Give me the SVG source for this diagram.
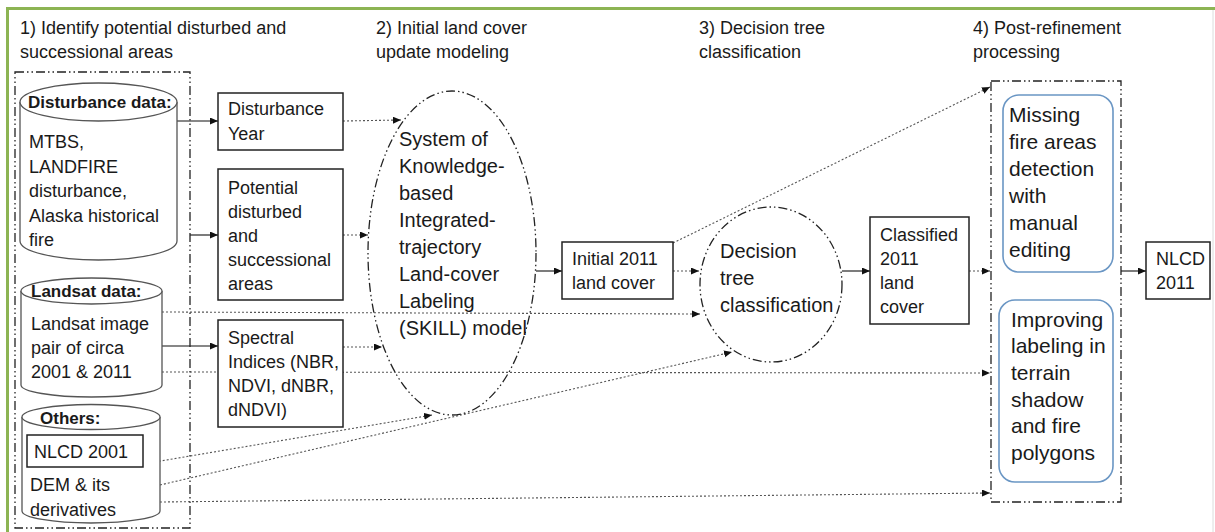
<svg xmlns="http://www.w3.org/2000/svg" width="1215" height="532" viewBox="0 0 1215 532">
<style>
text{font-family:"Liberation Sans",Arial,sans-serif;fill:#1a1a1a}
.h{font-size:18px}
.b{font-size:18px}
.bb{font-size:17px;font-weight:bold}
.e{font-size:20px}
.r{font-size:21px}
.box{fill:#fff;stroke:#222;stroke-width:1.5}
.cyl{fill:#fff;stroke:#555;stroke-width:1.3}
.dd{fill:none;stroke:#222;stroke-width:1.3;stroke-dasharray:9 3 1.5 3 1.5 3}
.rb{fill:#fff;stroke:#6a96c4;stroke-width:1.6}
.sol{fill:none;stroke:#111;stroke-width:1.1;marker-end:url(#ah)}
.dot{fill:none;stroke:#555;stroke-width:1.1;stroke-dasharray:2 2}
.dota{fill:none;stroke:#555;stroke-width:1.1;stroke-dasharray:2 2;marker-end:url(#ah)}
</style>
<defs>
<marker id="ah" markerUnits="userSpaceOnUse" markerWidth="9" markerHeight="8" refX="8" refY="3.5" orient="auto">
<path d="M0,0 L8,3.5 L0,7 z" fill="#111"/>
</marker>
</defs>
<rect x="0" y="0" width="1215" height="532" fill="#fff"/>
<rect x="7.5" y="8.5" width="1230" height="540" fill="none" stroke="#8cb453" stroke-width="3"/>
<line x1="1213" y1="10" x2="1213" y2="532" stroke="#dcdcdc" stroke-width="1"/>

<g id="headings">
<text class="h" x="20" y="34">1) Identify potential disturbed and</text>
<text class="h" x="20" y="58">successional areas</text>
<text class="h" x="376" y="34">2) Initial land cover</text>
<text class="h" x="376" y="58">update modeling</text>
<text class="h" x="699" y="34">3) Decision tree</text>
<text class="h" x="699" y="58">classification</text>
<text class="h" x="973" y="34">4) Post-refinement</text>
<text class="h" x="973" y="58">processing</text>
</g>

<g id="connectors">
<line class="dot" x1="162" y1="312" x2="700" y2="314" marker-end="url(#ah)"/>
<line class="dota" x1="162" y1="372" x2="990" y2="373"/>
<line class="dota" x1="143" y1="464" x2="432" y2="415"/>
<line class="dota" x1="160" y1="485" x2="732" y2="352"/>
<line class="dota" x1="160" y1="502" x2="990" y2="493"/>
<line class="dota" x1="343" y1="121" x2="401" y2="120"/>
<line class="dota" x1="343" y1="235" x2="368" y2="235"/>
<line class="dota" x1="343" y1="347" x2="382" y2="347"/>
<line class="dota" x1="673" y1="271" x2="699" y2="271"/>
<line class="dota" x1="673" y1="243" x2="990" y2="87"/>
<line class="dota" x1="969" y1="271" x2="990" y2="271"/>
<line class="sol" x1="177" y1="121" x2="218" y2="121"/>
<line class="sol" x1="190" y1="235" x2="218" y2="235"/>
<line class="sol" x1="162" y1="346" x2="218" y2="346"/>
<line class="sol" x1="536" y1="271" x2="562" y2="271"/>
<line class="sol" x1="842" y1="271" x2="870" y2="271"/>
<line class="sol" x1="1121" y1="271" x2="1146" y2="271"/>
</g>

<g id="group1-container">
<rect class="dd" x="15" y="72" width="175" height="456"/>
</g>

<g id="cyl-disturbance">
<path class="cyl" d="M20,102 V241 A78.5,19 0 0 0 177,241 V102"/>
<ellipse class="cyl" cx="98.5" cy="102" rx="78.5" ry="19"/>
<text class="bb" x="28" y="108">Disturbance data:</text>
<text class="b" x="29" y="148">MTBS,</text>
<text class="b" x="29" y="172.5">LANDFIRE</text>
<text class="b" x="29" y="197">disturbance,</text>
<text class="b" x="29" y="221.5">Alaska historical</text>
<text class="b" x="29" y="246">fire</text>
</g>

<g id="cyl-landsat">
<path class="cyl" d="M21,291 V385 A70.5,12 0 0 0 162,385 V291"/>
<ellipse class="cyl" cx="91.5" cy="291" rx="70.5" ry="13"/>
<text class="bb" x="31" y="297">Landsat data:</text>
<text class="b" x="31" y="330">Landsat image</text>
<text class="b" x="31" y="354">pair of circa</text>
<text class="b" x="31" y="378">2001 &amp; 2011</text>
</g>

<g id="cyl-others">
<path class="cyl" d="M22,417 V511 A69,12 0 0 0 160,511 V417"/>
<ellipse class="cyl" cx="91" cy="417" rx="69" ry="12.5"/>
<text class="bb" x="40" y="424">Others:</text>
<text class="b" x="30" y="491">DEM &amp; its</text>
<text class="b" x="30" y="516">derivatives</text>
</g>

<g id="nlcd2001">
<rect class="box" x="27" y="435" width="116" height="32"/>
<text class="b" x="34" y="458">NLCD 2001</text>
</g>

<g id="disturbance-year">
<rect class="box" x="218" y="93" width="125" height="57"/>
<text class="b" x="228" y="115">Disturbance</text>
<text class="b" x="228" y="140">Year</text>
</g>

<g id="potential">
<rect class="box" x="218" y="169" width="125" height="131"/>
<text class="b" x="228" y="194">Potential</text>
<text class="b" x="228" y="218">disturbed</text>
<text class="b" x="228" y="242">and</text>
<text class="b" x="228" y="266">successional</text>
<text class="b" x="228" y="290">areas</text>
</g>

<g id="spectral">
<rect class="box" x="218" y="320" width="125" height="107"/>
<text class="b" x="228" y="344">Spectral</text>
<text class="b" x="228" y="368">Indices (NBR,</text>
<text class="b" x="228" y="392">NDVI, dNBR,</text>
<text class="b" x="228" y="416">dNDVI)</text>
</g>

<g id="skill">
<ellipse class="dd" cx="452" cy="253" rx="84" ry="162"/>
<text class="e" x="399" y="146">System of</text>
<text class="e" x="399" y="173">Knowledge-</text>
<text class="e" x="399" y="200">based</text>
<text class="e" x="399" y="227">Integrated-</text>
<text class="e" x="399" y="254">trajectory</text>
<text class="e" x="399" y="281">Land-cover</text>
<text class="e" x="399" y="308">Labeling</text>
<text class="e" x="399" y="335">(SKILL) model</text>
</g>

<g id="initial2011">
<rect class="box" x="562" y="242" width="111" height="57"/>
<text class="b" x="572" y="265">Initial 2011</text>
<text class="b" x="572" y="289">land cover</text>
</g>

<g id="decision-tree">
<ellipse class="dd" cx="771" cy="284.5" rx="71" ry="77.5"/>
<text class="e" x="720" y="258">Decision</text>
<text class="e" x="720" y="285">tree</text>
<text class="e" x="720" y="312">classification</text>
</g>

<g id="classified2011">
<rect class="box" x="870" y="217" width="99" height="107"/>
<text class="b" x="880" y="241">Classified</text>
<text class="b" x="880" y="265">2011</text>
<text class="b" x="880" y="289">land</text>
<text class="b" x="880" y="313">cover</text>
</g>

<g id="post-container">
<rect class="dd" x="991" y="81" width="130" height="421"/>
</g>

<g id="missing-fire">
<rect class="rb" x="1003" y="95" width="110" height="177" rx="16"/>
<text class="r" x="1009" y="122">Missing</text>
<text class="r" x="1009" y="149">fire areas</text>
<text class="r" x="1009" y="176">detection</text>
<text class="r" x="1009" y="203">with</text>
<text class="r" x="1009" y="230">manual</text>
<text class="r" x="1009" y="257">editing</text>
</g>

<g id="improving">
<rect class="rb" x="999" y="300" width="114" height="182" rx="16"/>
<text class="r" x="1011" y="327">Improving</text>
<text class="r" x="1011" y="353">labeling in</text>
<text class="r" x="1011" y="380">terrain</text>
<text class="r" x="1011" y="407">shadow</text>
<text class="r" x="1011" y="433">and fire</text>
<text class="r" x="1011" y="460">polygons</text>
</g>

<g id="nlcd2011">
<rect class="box" x="1146" y="242" width="64" height="57"/>
<text class="b" x="1156" y="265">NLCD</text>
<text class="b" x="1156" y="289">2011</text>
</g>
</svg>
